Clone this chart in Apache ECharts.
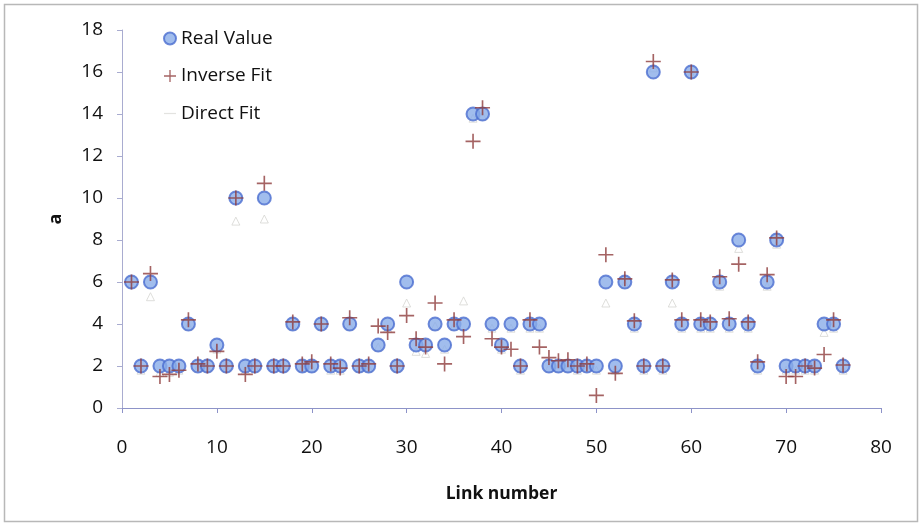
<!DOCTYPE html>
<html>
<head>
<meta charset="utf-8">
<script src="https://cdn.jsdelivr.net/npm/echarts@6/dist/echarts.min.js"></script>
<style>
  html, body { margin: 0; padding: 0; background: #ffffff; }
  #chart { width: 919px; height: 529px; }
</style>
</head>
<body>
<div id="chart"></div>
<script>
// Link numbers 1..76
const linkNumbers = [
  1, 2, 3, 4, 5, 6, 7, 8, 9, 10, 11, 12, 13, 14, 15, 16, 17, 18, 19, 20,
  21, 22, 23, 24, 25, 26, 27, 28, 29, 30, 31, 32, 33, 34, 35, 36, 37, 38, 39, 40,
  41, 42, 43, 44, 45, 46, 47, 48, 49, 50, 51, 52, 53, 54, 55, 56, 57, 58, 59, 60,
  61, 62, 63, 64, 65, 66, 67, 68, 69, 70, 71, 72, 73, 74, 75, 76
];

// Measured value of a for each link
const realValue = [
  6, 2, 6, 2, 2, 2, 4, 2, 2, 3, 2, 10, 2, 2, 10, 2, 2, 4, 2, 2,
  4, 2, 2, 4, 2, 2, 3, 4, 2, 6, 3, 3, 4, 3, 4, 4, 14, 14, 4, 3,
  4, 2, 4, 4, 2, 2, 2, 2, 2, 2, 6, 2, 6, 4, 2, 16, 2, 6, 4, 16,
  4, 4, 6, 4, 8, 4, 2, 6, 8, 2, 2, 2, 2, 4, 4, 2
];

// Inverse-model estimate
const inverseFit = [
  6.0, 2.0, 6.4, 1.5, 1.6, 1.8, 4.2, 2.1, 2.0, 2.7, 2.0, 10.0, 1.6, 2.0, 10.7, 2.0, 2.0, 4.1, 2.1, 2.2,
  4.0, 2.1, 1.9, 4.3, 2.0, 2.1, 3.9, 3.6, 2.0, 4.4, 3.3, 2.9, 5.0, 2.1, 4.2, 3.4, 12.7, 14.3, 3.3, 2.9,
  2.8, 2.0, 4.2, 2.9, 2.4, 2.25, 2.3, 2.0, 2.1, 0.6, 7.3, 1.65, 6.15, 4.15, 2.0, 16.5, 2.0, 6.1, 4.2, 16.0,
  4.2, 4.1, 6.25, 4.25, 6.85, 4.1, 2.2, 6.35, 8.1, 1.5, 1.5, 2.0, 1.9, 2.55, 4.2, 2.05
];

// Direct-model estimate
const directFit = [
  5.9, 1.8, 5.3, 1.7, 1.7, 1.8, 3.9, 1.9, 1.9, 2.8, 1.9, 8.9, 1.8, 1.9, 9.0, 1.9, 1.9, 3.9, 1.9, 1.9,
  3.9, 1.8, 1.8, 3.9, 1.9, 1.9, 2.9, 3.8, 1.9, 5.0, 2.7, 2.6, 3.9, 2.8, 3.9, 5.1, 13.8, 13.9, 3.8, 2.8,
  3.8, 1.8, 3.8, 3.8, 1.9, 1.9, 1.9, 1.8, 1.9, 1.8, 5.0, 1.8, 5.9, 3.8, 1.8, 16.2, 1.8, 5.0, 3.8, 15.9,
  3.8, 3.8, 5.8, 3.8, 7.6, 3.8, 1.8, 5.8, 7.8, 1.8, 1.8, 1.8, 1.8, 3.6, 3.8, 1.8
];

const xTicks = [0, 10, 20, 30, 40, 50, 60, 70, 80];
const yTicks = [0, 2, 4, 6, 8, 10, 12, 14, 16, 18];

const pair = (ys) => linkNumbers.map((x, i) => [x, ys[i]]);

const plusPath = 'path://M4.45,0h1.1v10h-1.1z M0,4.45h10v1.1h-10z';
const font = '"Open Sans", "Liberation Sans", sans-serif';

const chart = echarts.init(document.getElementById('chart'), null, { renderer: 'canvas' });

chart.setOption({
  backgroundColor: '#ffffff',
  animation: false,
  graphic: [{
    type: 'rect',
    left: 2, top: 2,
    shape: { width: 913, height: 517 },
    style: { fill: 'none', stroke: '#b8b8b8', lineWidth: 1.5 },
    silent: true
  }],
  grid: { left: 122, right: 38, top: 30, bottom: 121, containLabel: false },
  legend: {
    orient: 'vertical',
    left: 158, top: 24,
    itemGap: 18.5,
    itemWidth: 12, itemHeight: 12,
    textStyle: { fontFamily: font, fontSize: 19, color: '#111' },
    data: [
      { name: 'Real Value' },
      { name: 'Inverse Fit' },
      { name: 'Direct Fit', icon: 'path://M0,4.5h10v1h-10z', itemStyle: { color: '#dcdcd8', borderWidth: 0 } }
    ]
  },
  xAxis: {
    type: 'value',
    min: xTicks[0], max: xTicks[xTicks.length - 1], interval: 10,
    name: 'Link number',
    nameLocation: 'middle',
    nameGap: 77,
    nameTextStyle: { fontFamily: font, fontSize: 17.5, fontWeight: 'bold', color: '#111' },
    axisLine: { lineStyle: { color: '#8d93c8', width: 1 } },
    axisTick: { show: true, length: 5, lineStyle: { color: '#8d93c8' } },
    axisLabel: { fontFamily: font, fontSize: 19, color: '#111', margin: 30 },
    splitLine: { show: false }
  },
  yAxis: {
    type: 'value',
    min: yTicks[0], max: yTicks[yTicks.length - 1], interval: 2,
    name: 'a',
    nameLocation: 'middle',
    nameRotate: 90,
    nameGap: 57,
    nameTextStyle: { fontFamily: font, fontSize: 18, fontWeight: 'bold', color: '#111' },
    axisLine: { show: true, lineStyle: { color: '#a9acd0', width: 1 } },
    axisTick: { show: true, length: 5, lineStyle: { color: '#a9acd0' } },
    axisLabel: { fontFamily: font, fontSize: 19, color: '#111', margin: 19 },
    splitLine: { show: false }
  },
  series: [
    {
      name: 'Direct Fit',
      type: 'scatter',
      symbol: 'triangle',
      symbolSize: 8,
      z: 1,
      itemStyle: { color: 'rgba(255,255,255,0)', borderColor: '#d6d6d2', borderWidth: 1 },
      data: pair(directFit)
    },
    {
      name: 'Real Value',
      type: 'scatter',
      symbol: 'circle',
      symbolSize: 13,
      z: 2,
      itemStyle: { color: '#8aace9', borderColor: '#4a6dd0', borderWidth: 2 },
      data: pair(realValue)
    },
    {
      name: 'Inverse Fit',
      type: 'scatter',
      symbol: plusPath,
      symbolSize: 15,
      z: 3,
      itemStyle: { color: '#8e3c3c' },
      data: pair(inverseFit)
    }
  ]
});
</script>
</body>
</html>
